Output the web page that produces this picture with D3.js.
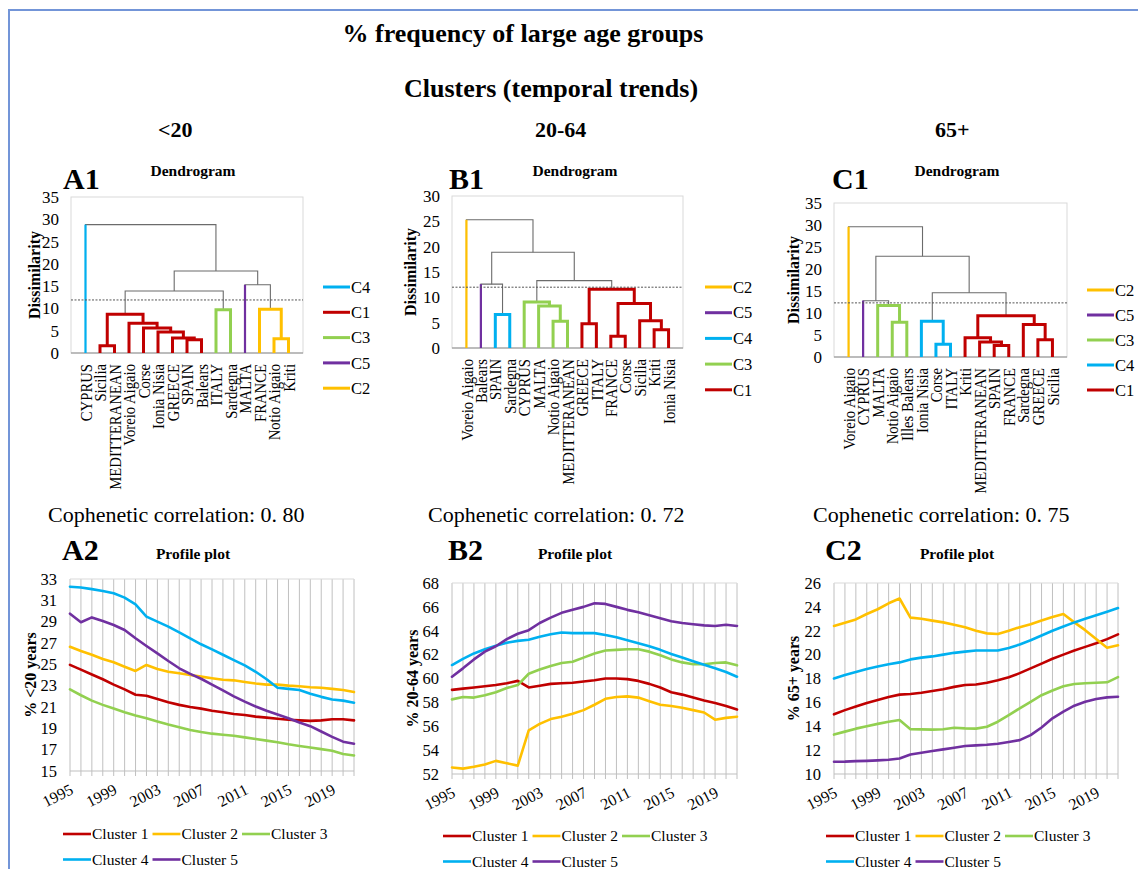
<!DOCTYPE html>
<html>
<head>
<meta charset="utf-8">
<script src="https://cdn.jsdelivr.net/npm/d3@7"></script>
<style>
  body { margin: 0; background: #ffffff; }
  svg { display: block; font-family: "Liberation Serif", "Times New Roman", serif; }
</style>
</head>
<body>
<svg id="chart" width="1138" height="869"></svg>
<script>
// ---------- shared categories ----------
const years = [1995,1996,1997,1998,1999,2000,2001,2002,2003,2004,2005,2006,2007,2008,2009,2010,2011,2012,2013,2014,2015,2016,2017,2018,2019,2020,2021];
const yearTicks = [1995,1999,2003,2007,2011,2015,2019];
const clusterKeys = ["C1","C2","C3","C4","C5"];
const clusterNames = ["Cluster 1","Cluster 2","Cluster 3","Cluster 4","Cluster 5"];
const clusterColors = ["#c00000","#ffc000","#92d050","#00b0f0","#7030a0"];

// ---------- dendrogram <20 ----------
const leavesA = ["CYPRUS","Sicilia","MEDITTERANEAN","Voreio Aigaio","Corse","Ionia Nisia","GREECE","SPAIN","Balears","ITALY","Sardegna","MALTA","FRANCE","Notio Aigaio","Kriti"];
const clustersA = ["C4","C1","C1","C1","C1","C1","C1","C1","C1","C3","C3","C5","C2","C2","C2"];
// [child, child, dissimilarity]; "#k" refers to merge k
const mergesA = [
  ["Sicilia","MEDITTERANEAN",1.6],
  ["SPAIN","Balears",2.95],
  ["GREECE","#1",3.35],
  ["Notio Aigaio","Kriti",3.2],
  ["Ionia Nisia","#2",4.7],
  ["Corse","#4",5.6],
  ["Voreio Aigaio","#5",6.7],
  ["#0","#6",8.7],
  ["ITALY","Sardegna",9.7],
  ["FRANCE","#3",9.8],
  ["#7","#8",13.9],
  ["MALTA","#9",15.3],
  ["#10","#11",18.4],
  ["CYPRUS","#12",28.8]
];
const cutA = 11.9;

// ---------- dendrogram 20-64 ----------
const leavesB = ["Voreio Aigaio","Balears","SPAIN","Sardegna","CYPRUS","MALTA","Notio Aigaio","MEDITTERANEAN","GREECE","ITALY","FRANCE","Corse","Sicilia","Kriti","Ionia Nisia"];
const clustersB = ["C2","C5","C4","C4","C3","C3","C3","C3","C1","C1","C1","C1","C1","C1","C1"];
const mergesB = [
  ["FRANCE","Corse",2.3],
  ["Kriti","Ionia Nisia",3.6],
  ["GREECE","ITALY",4.8],
  ["Notio Aigaio","MEDITTERANEAN",5.3],
  ["Sicilia","#1",5.4],
  ["SPAIN","Sardegna",6.6],
  ["MALTA","#3",8.3],
  ["#0","#4",8.8],
  ["CYPRUS","#6",9.1],
  ["#2","#7",11.6],
  ["Balears","#5",12.6],
  ["#8","#9",13.3],
  ["#10","#11",18.9],
  ["Voreio Aigaio","#12",25.3]
];
const cutB = 12.0;

// ---------- dendrogram 65+ ----------
const leavesC = ["Voreio Aigaio","CYPRUS","MALTA","Notio Aigaio","Illes Balears","Ionia Nisia","Corse","ITALY","Kriti","MEDITTERANEAN","SPAIN","FRANCE","Sardegna","GREECE","Sicilia"];
const clustersC = ["C2","C5","C3","C3","C3","C4","C4","C4","C1","C1","C1","C1","C1","C1","C1"];
const mergesC = [
  ["SPAIN","FRANCE",2.6],
  ["Corse","ITALY",2.9],
  ["MEDITTERANEAN","#0",3.4],
  ["GREECE","Sicilia",3.9],
  ["Kriti","#2",4.4],
  ["Sardegna","#3",7.4],
  ["Notio Aigaio","Illes Balears",7.9],
  ["Ionia Nisia","#1",8.1],
  ["#4","#5",9.4],
  ["MALTA","#6",11.7],
  ["CYPRUS","#9",12.8],
  ["#7","#8",14.6],
  ["#10","#11",22.9],
  ["Voreio Aigaio","#12",29.6]
];
const cutC = 12.3;

// ---------- profiles: % <20 years ----------
const under20_c1 = [24.95,24.5,24.05,23.6,23.1,22.65,22.15,22.05,21.75,21.45,21.2,21.0,20.85,20.65,20.5,20.35,20.25,20.1,20.0,19.9,19.8,19.75,19.7,19.75,19.85,19.85,19.75];
const under20_c2 = [26.65,26.25,25.9,25.5,25.19,24.78,24.38,24.94,24.56,24.31,24.16,24.0,23.85,23.7,23.55,23.5,23.35,23.2,23.1,23.1,23.0,22.95,22.85,22.8,22.7,22.6,22.4];
const under20_c3 = [22.65,22.1,21.6,21.2,20.85,20.5,20.2,19.95,19.65,19.35,19.1,18.85,18.65,18.5,18.4,18.3,18.15,18.0,17.85,17.7,17.5,17.35,17.2,17.05,16.9,16.6,16.45];
const under20_c4 = [32.28,32.2,32.05,31.88,31.66,31.25,30.63,29.47,29.0,28.53,28.0,27.44,26.88,26.4,25.9,25.4,24.9,24.3,23.6,22.8,22.7,22.6,22.25,21.95,21.7,21.6,21.4];
const under20_c5 = [29.75,28.95,29.4,29.06,28.69,28.22,27.44,26.72,26.03,25.31,24.63,24.1,23.65,23.1,22.55,22.0,21.5,21.05,20.65,20.3,19.95,19.55,19.2,18.7,18.2,17.75,17.55];

// ---------- profiles: % 20-64 years ----------
const age2064_c1 = [59.05,59.15,59.25,59.35,59.45,59.6,59.8,59.25,59.4,59.55,59.6,59.65,59.75,59.85,60.0,60.0,59.95,59.8,59.55,59.25,58.85,58.65,58.4,58.15,57.95,57.7,57.4];
const age2064_c2 = [52.55,52.45,52.6,52.8,53.1,52.9,52.7,55.65,56.2,56.6,56.8,57.05,57.35,57.8,58.3,58.45,58.5,58.4,58.1,57.8,57.7,57.55,57.35,57.15,56.55,56.7,56.8];
const age2064_c3 = [58.25,58.45,58.4,58.6,58.85,59.2,59.45,60.4,60.75,61.05,61.3,61.4,61.75,62.1,62.35,62.4,62.45,62.45,62.25,61.95,61.6,61.35,61.2,61.2,61.3,61.35,61.1];
const age2064_c4 = [61.13,61.65,62.1,62.45,62.75,63.0,63.15,63.25,63.5,63.7,63.85,63.8,63.8,63.8,63.65,63.45,63.2,62.95,62.7,62.4,62.05,61.75,61.45,61.15,60.85,60.55,60.15];
const age2064_c5 = [60.15,60.85,61.6,62.25,62.7,63.3,63.75,64.05,64.65,65.1,65.5,65.75,66.0,66.3,66.25,66.0,65.75,65.55,65.3,65.05,64.8,64.65,64.55,64.45,64.4,64.5,64.4];

// ---------- profiles: % 65+ years ----------
const age65_c1 = [15.0,15.35,15.65,15.95,16.2,16.45,16.65,16.7,16.8,16.95,17.1,17.3,17.45,17.5,17.65,17.85,18.1,18.45,18.85,19.25,19.65,20.0,20.35,20.65,20.95,21.3,21.7];
const age65_c2 = [22.4,22.68,22.95,23.4,23.8,24.3,24.7,23.1,23.0,22.85,22.7,22.5,22.3,22.0,21.78,21.73,22.0,22.3,22.55,22.85,23.15,23.4,22.7,22.05,21.3,20.58,20.78];
const age65_c3 = [13.3,13.55,13.8,14.0,14.2,14.38,14.52,13.75,13.74,13.72,13.75,13.87,13.82,13.8,13.96,14.38,14.94,15.5,16.05,16.6,17.0,17.35,17.54,17.6,17.65,17.68,18.12];
const age65_c4 = [18.0,18.3,18.55,18.8,19.0,19.2,19.35,19.6,19.75,19.85,20.0,20.15,20.25,20.35,20.35,20.35,20.55,20.85,21.2,21.6,22.0,22.35,22.7,23.0,23.3,23.6,23.9];
const age65_c5 = [11.03,11.04,11.08,11.1,11.14,11.2,11.3,11.64,11.78,11.92,12.06,12.2,12.34,12.4,12.45,12.54,12.68,12.84,13.26,13.9,14.66,15.22,15.72,16.05,16.28,16.42,16.47];

// ---------- drawing ----------
const svg = d3.select("#chart");
const colorOf = k => clusterColors[clusterKeys.indexOf(k)];
const GREY_LINK = "#6b6b6b";

// page frame
svg.append("path")
  .attr("d", "M9,869 V10 H1138")
  .attr("fill", "none").attr("stroke", "#7395d8").attr("stroke-width", 2);

// headings
function label(x, y, txt, size, weight, anchor) {
  return svg.append("text").attr("x", x).attr("y", y)
    .attr("font-size", size).attr("font-weight", weight || "normal")
    .attr("text-anchor", anchor || "start").attr("fill", "#000").text(txt);
}
label(523, 42, "% frequency of large age groups", 26, "bold", "middle");
label(551, 97, "Clusters (temporal trends)", 26, "bold", "middle");
label(158, 137, "<20", 22, "bold");
label(535, 137, "20-64", 22, "bold");
label(935, 137, "65+", 22, "bold");

function drawDendrogram(cfg) {
  const g = svg.append("g");
  const x = d3.scalePoint().domain(cfg.leaves).range([cfg.left, cfg.right]).padding(1);
  const y = d3.scaleLinear().domain([0, cfg.yMax]).range([cfg.bottom, cfg.top]);

  // plot area
  g.append("rect").attr("x", cfg.left).attr("y", cfg.top)
    .attr("width", cfg.right - cfg.left).attr("height", cfg.bottom - cfg.top)
    .attr("fill", "none").attr("stroke", "#d9d9d9").attr("stroke-width", 1);
  g.append("line").attr("x1", cfg.left).attr("x2", cfg.right)
    .attr("y1", cfg.bottom).attr("y2", cfg.bottom)
    .attr("stroke", "#8c8c8c").attr("stroke-width", 1.2);

  // y axis
  const ticks = d3.range(0, cfg.yMax + 0.1, 5);
  const ax = g.append("g").attr("transform", `translate(${cfg.left},0)`)
    .call(d3.axisLeft(y).tickValues(ticks).tickSize(0).tickPadding(12));
  ax.select(".domain").remove();
  ax.selectAll("text").attr("font-size", 17).attr("font-family", "Liberation Serif, serif").attr("fill", "#000");

  g.append("text")
    .attr("transform", `translate(${cfg.axisTitleX},${(cfg.top + cfg.bottom) / 2}) rotate(-90)`)
    .attr("text-anchor", "middle").attr("dy", "0.35em")
    .attr("font-size", 16).attr("font-weight", "bold").text("Dissimilarity");

  // tree nodes
  const nodes = {};
  cfg.leaves.forEach((name, i) => {
    nodes[name] = { x: x(name), h: 0, leaf: true, cl: cfg.clusters[i] };
  });
  const links = [];
  cfg.merges.forEach((m, k) => {
    const a = nodes[m[0]], b = nodes[m[1]];
    const n = { x: (a.x + b.x) / 2, h: m[2], leaf: false, cl: a.cl === b.cl ? a.cl : null, a, b };
    nodes["#" + k] = n;
    links.push(n);
  });

  const uPath = n => `M${n.a.x},${y(n.a.h)}V${y(n.h)}H${n.b.x}V${y(n.b.h)}`;
  // joins above the cut in thin grey
  links.filter(n => n.h >= cfg.cut).forEach(n => {
    g.append("path").attr("d", uPath(n)).attr("fill", "none")
      .attr("stroke", GREY_LINK).attr("stroke-width", 1.1);
  });
  // single-member clusters: the leaf stem in its colour
  links.filter(n => n.h >= cfg.cut).forEach(n => {
    [n.a, n.b].filter(c => c.leaf).forEach(c => {
      g.append("line").attr("x1", c.x).attr("x2", c.x)
        .attr("y1", y(0)).attr("y2", y(n.h))
        .attr("stroke", colorOf(c.cl)).attr("stroke-width", 2.2);
    });
  });
  // joins inside a cluster
  links.filter(n => n.h < cfg.cut).forEach(n => {
    g.append("path").attr("d", uPath(n)).attr("fill", "none")
      .attr("stroke", colorOf(n.cl)).attr("stroke-width", 3)
      .attr("stroke-linejoin", "miter");
  });

  // cut level
  g.append("line").attr("x1", cfg.left).attr("x2", cfg.right)
    .attr("y1", y(cfg.cut)).attr("y2", y(cfg.cut))
    .attr("stroke", "#555").attr("stroke-width", 1).attr("stroke-dasharray", "2,1.5");

  // leaf labels
  cfg.leaves.forEach(name => {
    g.append("text")
      .attr("transform", `translate(${x(name)},${cfg.bottom + 11}) rotate(-90) scale(0.84,1)`)
      .attr("text-anchor", "end").attr("dy", "0.35em")
      .attr("font-size", 17.5).text(name);
  });

  // legend in order of appearance
  const order = [];
  cfg.clusters.forEach(c => { if (!order.includes(c)) order.push(c); });
  order.forEach((c, i) => {
    const ly = cfg.legendY + i * cfg.legendStep;
    g.append("line").attr("x1", cfg.legendX).attr("x2", cfg.legendX + 27)
      .attr("y1", ly).attr("y2", ly)
      .attr("stroke", colorOf(c)).attr("stroke-width", 3);
    g.append("text").attr("x", cfg.legendX + 28).attr("y", ly).attr("dy", "0.35em")
      .attr("font-size", 16.5).text(c);
  });

  label(cfg.letterX, 189, cfg.letter, 30, "bold");
  label(cfg.titleX, 176, "Dendrogram", 15.5, "bold", "middle");
}

drawDendrogram({ leaves: leavesA, clusters: clustersA, merges: mergesA, cut: cutA,
  left: 71, right: 303, top: 197, bottom: 353, yMax: 35, axisTitleX: 34,
  legendX: 323, legendY: 287, legendStep: 25.3, letter: "A1", letterX: 63, titleX: 193 });
drawDendrogram({ leaves: leavesB, clusters: clustersB, merges: mergesB, cut: cutB,
  left: 452, right: 683, top: 196, bottom: 348, yMax: 30, axisTitleX: 410,
  legendX: 705, legendY: 287, legendStep: 25.7, letter: "B1", letterX: 449, titleX: 575 });
drawDendrogram({ leaves: leavesC, clusters: clustersC, merges: mergesC, cut: cutC,
  left: 834, right: 1067, top: 203, bottom: 357, yMax: 35, axisTitleX: 793,
  legendX: 1087, legendY: 290, legendStep: 25, letter: "C1", letterX: 832, titleX: 957 });

// cophenetic correlations
label(48, 522, "Cophenetic correlation: 0. 80", 22);
label(428, 522, "Cophenetic correlation: 0. 72", 22);
label(813, 522, "Cophenetic correlation: 0. 75", 22);

function drawProfile(cfg) {
  const g = svg.append("g");
  const x = d3.scalePoint().domain(years).range([cfg.left, cfg.right]);
  const y = d3.scaleLinear().domain([cfg.yMin, cfg.yMax]).range([cfg.bottom, cfg.top]);

  // year grid
  g.selectAll("line.grid").data(years).join("line")
    .attr("x1", d => x(d)).attr("x2", d => x(d))
    .attr("y1", cfg.top).attr("y2", cfg.bottom + 5)
    .attr("stroke", "#c0c0c0").attr("stroke-width", 1);
  g.append("line").attr("x1", cfg.left).attr("x2", cfg.right)
    .attr("y1", cfg.top).attr("y2", cfg.top).attr("stroke", "#d9d9d9");
  g.append("line").attr("x1", cfg.left).attr("x2", cfg.right)
    .attr("y1", cfg.bottom).attr("y2", cfg.bottom).attr("stroke", "#bfbfbf");

  // y axis
  const ay = g.append("g").attr("transform", `translate(${cfg.left},0)`)
    .call(d3.axisLeft(y).tickValues(d3.range(cfg.yMin, cfg.yMax + 0.1, 2)).tickSize(0).tickPadding(13));
  ay.select(".domain").remove();
  ay.selectAll("text").attr("font-size", 16.5).attr("font-family", "Liberation Serif, serif").attr("fill", "#000");

  // x axis (rotated year labels)
  const axx = g.append("g").attr("transform", `translate(0,${cfg.bottom})`)
    .call(d3.axisBottom(x).tickValues(yearTicks).tickSize(0));
  axx.select(".domain").remove();
  axx.selectAll("text")
    .attr("font-size", 16).attr("font-family", "Liberation Serif, serif").attr("fill", "#000")
    .attr("text-anchor", "end").attr("x", 0).attr("y", 0).attr("dy", 0)
    .attr("transform", "translate(4,22) rotate(-27)");

  g.append("text")
    .attr("transform", `translate(${cfg.axisTitleX},${(cfg.top + cfg.bottom) / 2}) rotate(-90)`)
    .attr("text-anchor", "middle").attr("dy", "0.35em")
    .attr("font-size", 16).attr("font-weight", "bold").text(cfg.axisTitle);

  // series
  const line = d3.line().x((d, i) => x(years[i])).y(d => y(d));
  cfg.series.forEach((s, i) => {
    g.append("path").datum(s).attr("d", line).attr("fill", "none")
      .attr("stroke", clusterColors[i]).attr("stroke-width", 2.6)
      .attr("stroke-linejoin", "round").attr("stroke-linecap", "round");
  });

  // legend
  clusterNames.forEach((name, i) => {
    const lx = cfg.legendX + (i % 3) * 89.5;
    const ly = cfg.legendY + Math.floor(i / 3) * 25.5;
    g.append("line").attr("x1", lx).attr("x2", lx + 28).attr("y1", ly).attr("y2", ly)
      .attr("stroke", clusterColors[i]).attr("stroke-width", 2.6);
    g.append("text").attr("x", lx + 29).attr("y", ly).attr("dy", "0.35em")
      .attr("font-size", 15.5).text(name);
  });

  label(cfg.letterX, 560, cfg.letter, 30, "bold");
  label(cfg.titleX, 559, "Profile plot", 15.5, "bold", "middle");
}

drawProfile({ series: [under20_c1, under20_c2, under20_c3, under20_c4, under20_c5],
  left: 70, right: 354, top: 579, bottom: 771, yMin: 15, yMax: 33,
  axisTitle: "% <20 years", axisTitleX: 30, legendX: 63, legendY: 834,
  letter: "A2", letterX: 62, titleX: 193 });
drawProfile({ series: [age2064_c1, age2064_c2, age2064_c3, age2064_c4, age2064_c5],
  left: 452, right: 737, top: 583, bottom: 774, yMin: 52, yMax: 68,
  axisTitle: "% 20-64 years", axisTitleX: 412, legendX: 443, legendY: 836,
  letter: "B2", letterX: 448, titleX: 575 });
drawProfile({ series: [age65_c1, age65_c2, age65_c3, age65_c4, age65_c5],
  left: 834, right: 1118, top: 583, bottom: 774, yMin: 10, yMax: 26,
  axisTitle: "% 65+ years", axisTitleX: 793, legendX: 826, legendY: 836,
  letter: "C2", letterX: 825, titleX: 957 });
</script>
</body>
</html>
